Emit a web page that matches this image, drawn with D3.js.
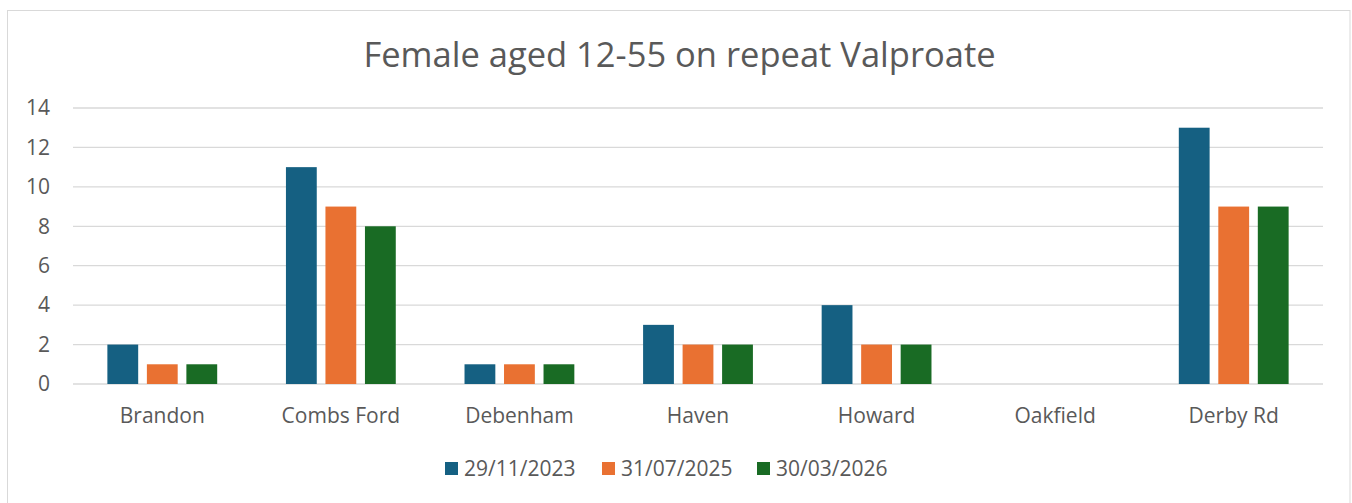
<!DOCTYPE html>
<html><head><meta charset="utf-8">
<script src="https://cdn.jsdelivr.net/npm/d3@7"></script>
<style>
body{margin:0;background:#fff;}
svg{display:block;font-family:"Open Sans",Lato,sans-serif;}
</style></head>
<body>
<svg id="chart" width="1352" height="503"></svg>
<script>
const categories = ["Brandon","Combs Ford","Debenham","Haven","Howard","Oakfield","Derby Rd"];
const seriesNames = ["29/11/2023","31/07/2025","30/03/2026"];
const values2023 = [2,11,1,3,4,0,13];
const values2025 = [1,9,1,2,2,0,9];
const values2026 = [1,8,1,2,2,0,9];
const yTicks = [0,2,4,6,8,10,12,14];
const colors = ["#156082","#E97132","#196B24"];
const title = "Female aged 12-55 on repeat Valproate";

const series = [values2023, values2025, values2026];
const svg = d3.select("#chart");
const textColor = "#595959";

// chart border
svg.append("rect").attr("x",7.5).attr("y",10.5).attr("width",1342.5).attr("height",500)
  .attr("fill","#fff").attr("stroke","#d9d9d9").attr("stroke-width",1);

const plot = {left:73, right:1323, top:108, bottom:384};
const x = d3.scaleBand().domain(categories).range([plot.left, plot.right]).paddingInner(0).paddingOuter(0);
const y = d3.scaleLinear().domain([0,14]).range([plot.bottom, plot.top]);
const groupWidth = x.bandwidth()*0.615;
const xs = d3.scaleBand().domain(d3.range(series.length)).range([0, groupWidth]).paddingInner(0.22);

// gridlines
svg.append("g").selectAll("line").data(yTicks).join("line")
  .attr("x1",plot.left).attr("x2",plot.right)
  .attr("y1",d=>y(d)).attr("y2",d=>y(d))
  .attr("stroke","#d9d9d9").attr("stroke-width",1.3);

// y axis labels
const yAxis = d3.axisLeft(y).tickValues(yTicks).tickSize(0).tickPadding(0);
const ya = svg.append("g").attr("transform",`translate(${50},0)`).call(yAxis);
ya.select(".domain").remove();
ya.selectAll("text").attr("fill",textColor).style("font-size","21px").style("font-family","'Open Sans',sans-serif");

// bars
const groups = svg.append("g").selectAll("g").data(categories).join("g")
  .attr("transform",d=>`translate(${x(d)+(x.bandwidth()-groupWidth)/2},0)`);
groups.selectAll("rect").data((d,i)=>series.map((s,k)=>({k,v:s[i]}))).join("rect")
  .attr("x",d=>xs(d.k)).attr("width",xs.bandwidth())
  .attr("y",d=>y(d.v)).attr("height",d=>y(0)-y(d.v))
  .attr("fill",d=>colors[d.k]);

// x axis labels
const xAxis = d3.axisBottom(x).tickSize(0).tickPadding(0);
const xa = svg.append("g").attr("transform",`translate(0,${plot.bottom})`).call(xAxis);
xa.select(".domain").remove();
xa.selectAll("text").attr("y",39).attr("dy",0).attr("fill",textColor).style("font-size","21px").style("font-family","'Open Sans',sans-serif");

// title
svg.append("text").attr("x",679.5).attr("y",67).attr("text-anchor","middle")
  .attr("fill",textColor).style("font-size","34.5px").text(title);

// legend
const legendX = [445,602,757];
const lg = svg.append("g").selectAll("g").data(seriesNames).join("g")
  .attr("transform",(d,i)=>`translate(${legendX[i]},462)`);
lg.append("rect").attr("width",13).attr("height",13).attr("fill",(d,i)=>colors[i]);
lg.append("text").attr("x",19).attr("y",14).attr("fill",textColor).style("font-size","21px").text(d=>d);
</script>
</body></html>
